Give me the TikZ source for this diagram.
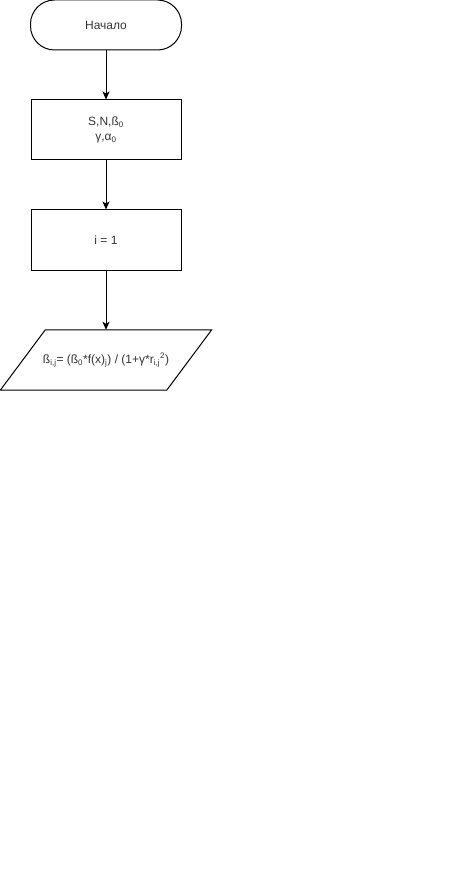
\documentclass[tikz,border=0pt]{standalone}
\usepackage{fontspec}
\setmainfont{Liberation Sans}
\usetikzlibrary{arrows.meta}

\begin{document}
\begin{tikzpicture}[x=1pt,y=1pt]
	\def\slant{22.5}
	\tikzset{txt/.style = {font=\fontsize{12pt}{15pt}\selectfont, text=black!80, align=center}};
	\tikzset{terminal/.style = {txt, draw, line width=1pt, rounded corners=24pt, minimum width=151pt, minimum height=50pt}};
	\tikzset{block/.style = {txt, draw, line width=1pt, minimum width=150pt, minimum height=60pt}};
	\tikzset{io/.style = {txt, inner xsep=0pt, minimum width=166pt, minimum height=60pt}};
	\tikzset{flow/.style = {line width=1pt, -{Stealth[length=8pt, width=7pt, inset=2pt]}}};
	
	\useasboundingbox (0,0) rectangle (451,-877);
	
	%Ablauf
	\node[terminal] (start) at (106,-25) {Начало};
	\node[block] (input) at (106,-130) {S,N,ß\textsubscript{0}\\γ,α\textsubscript{0}};
	\node[block] (init) at (106,-240) {i = 1};
	\node[io] (calc) at (106,-360) {ß\textsubscript{i,j}= (ß\textsubscript{0}*f(x)\textsubscript{j}) / (1+γ*r\textsubscript{i,j}\textsuperscript{2})};
	%Parallelogramm
	\draw[line width=1pt] ([xshift=\slant]calc.north west) -- ([xshift=\slant]calc.north east) -- ([xshift=-\slant]calc.south east) -- ([xshift=-\slant]calc.south west) -- cycle;
	
	%Pfeile
	\draw[flow] (start) -- (input);
	\draw[flow] (input) -- (init);
	\draw[flow] (init) -- (calc);
\end{tikzpicture}
\end{document}
